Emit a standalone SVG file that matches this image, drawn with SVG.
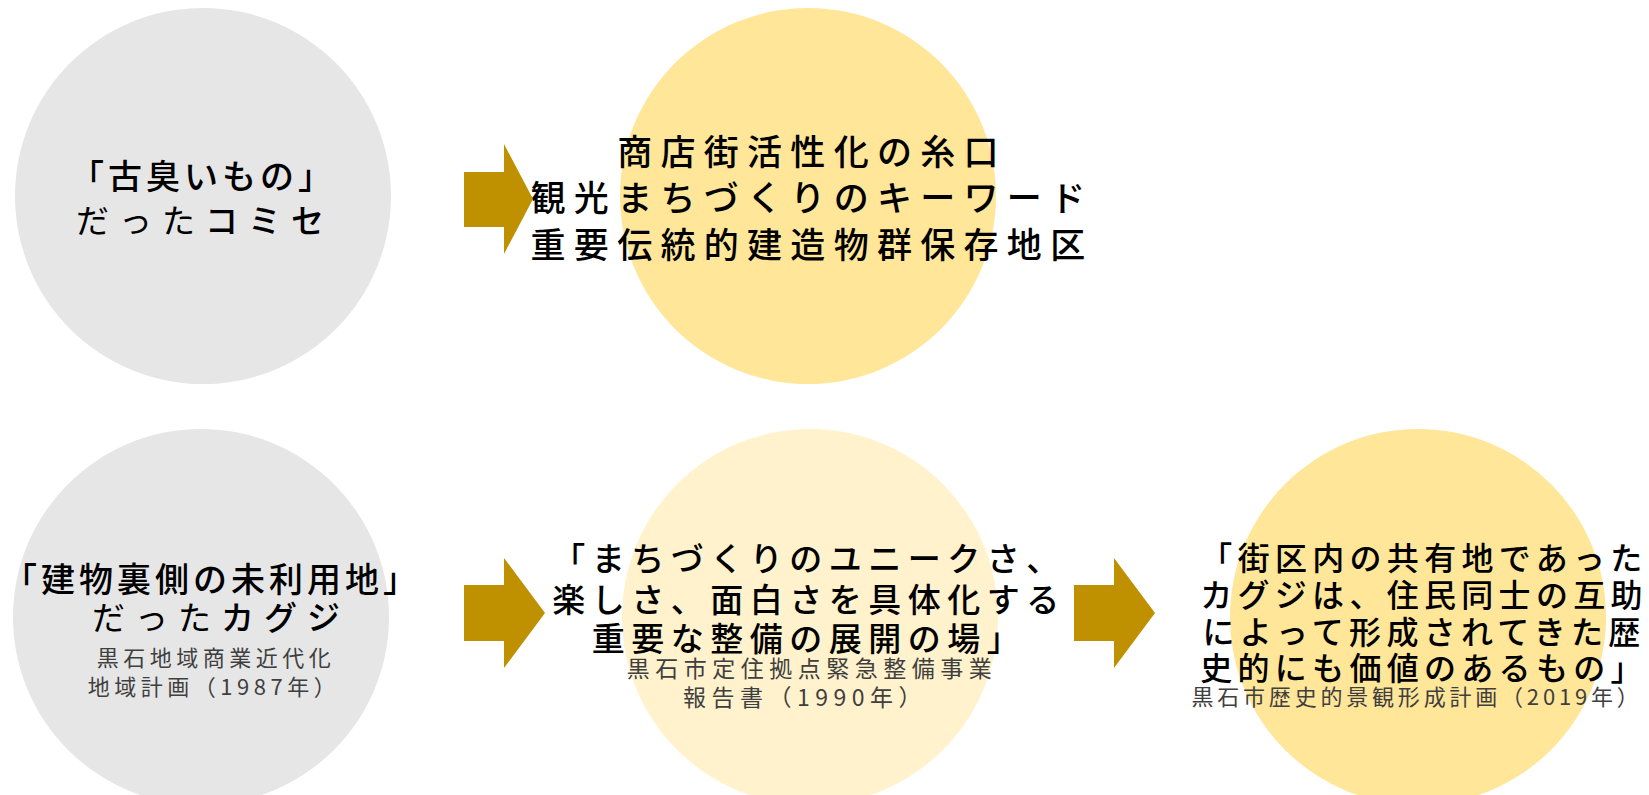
<svg xmlns="http://www.w3.org/2000/svg" width="1649" height="795" viewBox="0 0 1649 795">
<style>
.t{font-family:"Noto Sans CJK JP","Noto Sans CJK SC",sans-serif;fill:#000;text-anchor:middle;font-weight:500}
.s{font-family:"Noto Sans CJK JP","Noto Sans CJK SC",sans-serif;fill:#3f3f3f;text-anchor:middle}
.thin{font-weight:400}
.grey{fill:#e6e6e6}
.yel{fill:#ffe699}
.lt{fill:#fff2cc}
.arr{fill:#bf9000}
</style>
<rect width="1649" height="795" fill="#ffffff"/>
<g id="node-komise-old">
<circle class="grey" cx="203" cy="196" r="188"/>
<text class="t" x="203" y="189" font-size="34" letter-spacing="4">「古臭いもの」</text>
<text class="t" x="205" y="233" font-size="33" letter-spacing="10"><tspan class="thin">だった</tspan>コミセ</text>
</g>
<g id="node-komise-new">
<circle class="yel" cx="808" cy="196" r="188"/>
<text class="t" x="812" y="165" font-size="35" letter-spacing="8.3">商店街活性化の糸口</text>
<text class="t" x="812" y="211" font-size="35" letter-spacing="8.3">観光まちづくりのキーワード</text>
<text class="t" x="812" y="258" font-size="35" letter-spacing="8.3">重要伝統的建造物群保存地区</text>
</g>
<g id="node-kaguji-1987">
<circle class="grey" cx="201" cy="617" r="188"/>
<text class="t" x="212" y="592" font-size="34" letter-spacing="4">「建物裏側の未利用地」</text>
<text class="t" x="221" y="630" font-size="33" letter-spacing="10"><tspan class="thin">だった</tspan>カグジ</text>
<text class="s" x="216" y="666" font-size="22" letter-spacing="4.5">黒石地域商業近代化</text>
<text class="s" x="214" y="695" font-size="22" letter-spacing="4.5">地域計画（1987年）</text>
</g>
<g id="node-kaguji-1990">
<circle class="lt" cx="810" cy="617" r="188"/>
<text class="t" x="809" y="571" font-size="33" letter-spacing="6.5">「まちづくりのユニークさ、</text>
<text class="t" x="809" y="612" font-size="33" letter-spacing="6.5">楽しさ、面白さを具体化する</text>
<text class="t" x="809" y="651" font-size="33" letter-spacing="6.5">重要な整備の展開の場」</text>
<text class="s" x="812" y="677" font-size="23" letter-spacing="5.5">黒石市定住拠点緊急整備事業</text>
<text class="s" x="805" y="706" font-size="23" letter-spacing="5.5">報告書（1990年）</text>
</g>
<g id="node-kaguji-2019">
<circle class="yel" cx="1418" cy="617" r="188"/>
<text class="t" x="1424" y="570" font-size="32" letter-spacing="5.3">「街区内の共有地であった</text>
<text class="t" x="1424" y="607" font-size="32" letter-spacing="5.3">カグジは、住民同士の互助</text>
<text class="t" x="1424" y="644" font-size="32" letter-spacing="5.3">によって形成されてきた歴</text>
<text class="t" x="1424" y="680" font-size="32" letter-spacing="5.3">史的にも価値のあるもの」</text>
<text class="s" x="1417" y="705" font-size="22" letter-spacing="3.8">黒石市歴史的景観形成計画（2019年）</text>
</g>
<g id="connectors">
<polygon class="arr" points="464,172 504,172 504,144 533,199 504,254 504,227 464,227"/>
<polygon class="arr" points="464,585 504,585 504,558 545,613 504,668 504,641 464,641"/>
<polygon class="arr" points="1074,585 1114,585 1114,558 1155,613 1114,668 1114,641 1074,641"/>
</g>
</svg>
